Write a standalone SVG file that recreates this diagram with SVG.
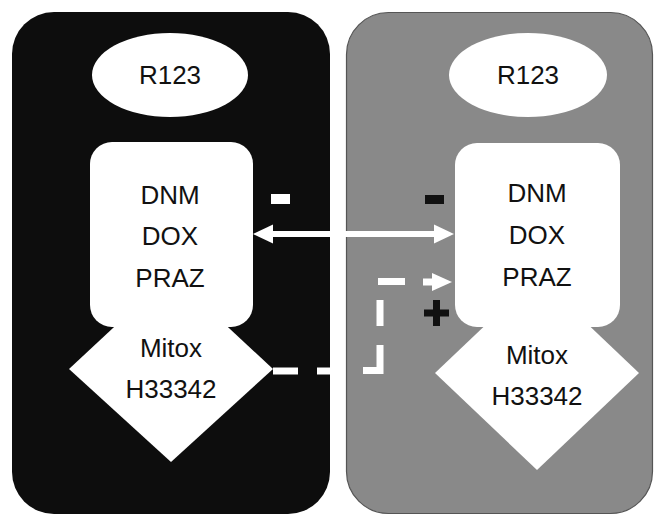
<svg xmlns="http://www.w3.org/2000/svg" width="654" height="516" viewBox="0 0 654 516">
<style>
.t{font-family:"Liberation Sans",Arial,sans-serif;font-size:26px;fill:#111;text-anchor:middle}
.w{fill:#fff}
.dash{stroke:#fff;stroke-width:7;fill:none;stroke-linecap:butt}
</style>
<rect width="654" height="516" fill="#fff"/>
<g id="panel-left"><rect x="12" y="12" width="318" height="502" rx="42" ry="42" fill="#0d0d0d"/></g>
<g id="panel-right"><rect x="346.5" y="12.5" width="306" height="501" rx="42" ry="42" fill="#898989" stroke="#555" stroke-width="1.2"/></g>
<g id="left-r123"><ellipse cx="170" cy="75" rx="78" ry="42" class="w"/><text x="170" y="84" class="t">R123</text></g>
<g id="right-r123"><ellipse cx="528" cy="75" rx="79" ry="42" class="w"/><text x="528" y="84" class="t">R123</text></g>
<g id="left-mitox"><polygon points="171,274 273,369 171,462 69,369" class="w"/><text x="171" y="357" class="t">Mitox</text><text x="171" y="398" class="t">H33342</text></g>
<g id="left-dnm"><rect x="90" y="142" width="163" height="185" rx="22" ry="22" class="w"/><text x="170" y="204" class="t">DNM</text><text x="170" y="245" class="t">DOX</text><text x="170" y="287" class="t">PRAZ</text></g>
<g id="right-mitox"><polygon points="537,276 639,373 537,470 435,373" class="w"/><text x="537" y="364" class="t">Mitox</text><text x="537" y="405" class="t">H33342</text></g>
<g id="right-dnm"><rect x="455" y="143" width="165" height="184" rx="22" ry="22" class="w"/><text x="537" y="202" class="t">DNM</text><text x="537" y="244" class="t">DOX</text><text x="537" y="286" class="t">PRAZ</text></g>
<g id="connectors">
<line x1="272" y1="234" x2="436" y2="234" stroke="#fff" stroke-width="6"/>
<polygon points="253,234 273,224.5 273,243.5" class="w"/>
<polygon points="454,234 434,224.5 434,243.5" class="w"/>
<line x1="273" y1="371" x2="298" y2="371" class="dash"/>
<line x1="317" y1="371" x2="330" y2="371" class="dash"/>
<polyline points="363,370.5 380,370.5 380,345" class="dash" stroke-linejoin="miter"/>
<line x1="380" y1="326" x2="380" y2="300" class="dash"/>
<line x1="378" y1="281.5" x2="405" y2="281.5" class="dash"/>
<line x1="423" y1="282" x2="434" y2="282" class="dash"/>
<polygon points="452,282 432,273 432,291" class="w"/>
</g>
<g id="signs">
<rect x="271" y="194" width="19" height="10" fill="#fff"/>
<rect x="425" y="195" width="19" height="9" fill="#111"/>
<rect x="424" y="309.5" width="25" height="7" fill="#111"/>
<rect x="433" y="300" width="7" height="26" fill="#111"/>
</g>
</svg>
